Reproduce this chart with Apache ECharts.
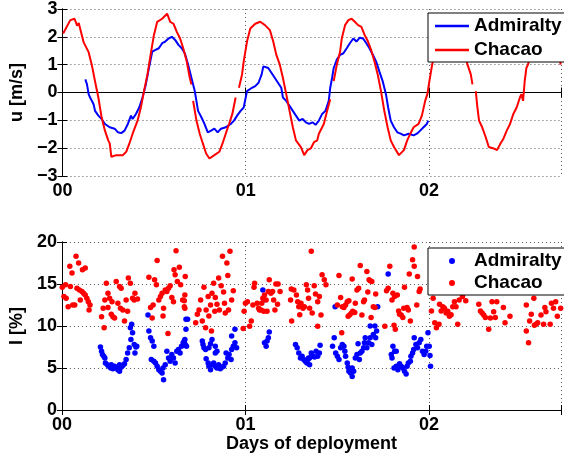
<!DOCTYPE html>
<html>
<head>
<meta charset="utf-8">
<script src="https://cdn.jsdelivr.net/npm/echarts@6/dist/echarts.min.js"></script>
<style>html,body{margin:0;padding:0;background:#fff}#c{width:564px;height:457px}</style>
</head>
<body>
<div id="c"></div>
<script>
// x tick labels
const dayTicks = ['00', '01', '02'];
// Top panel: u [m/s] time series (days, u); '-' marks a gap
const chacaoU = [
[0.004,2.12],[0.043,2.6],[0.066,2.65],[0.08,2.4],[0.089,2.5],[0.116,1.8],[0.143,1.45],[0.16,1.0],[0.178,0.4],[0.196,-0.18],
[0.214,-0.9],[0.232,-1.37],[0.25,-1.72],[0.258,-1.83],[0.267,-2.31],[0.294,-2.25],[0.33,-2.25],[0.348,-2.13],[0.365,-1.84],[0.383,-1.48],
[0.41,-1.01],[0.428,-0.54],[0.445,0.05],[0.464,0.65],[0.481,1.35],[0.499,2.06],[0.517,2.54],[0.544,2.65],[0.571,2.83],[0.579,2.9],
[0.588,2.54],[0.606,2.47],[0.624,2.18],[0.642,1.94],[0.659,1.59],[0.678,1.12],[0.695,0.52],[0.704,0.29],[0.709,'-'],
[0.713,-0.3],[0.731,-1.0],[0.749,-1.48],[0.766,-1.83],[0.784,-2.19],[0.802,-2.37],[0.829,-2.25],[0.856,-2.13],[0.873,-1.84],[0.891,-1.48],
[0.909,-1.13],[0.927,-0.77],[0.945,-0.18],[0.954,'-'],
[0.963,0.17],[0.98,0.65],[0.989,1.12],[1.007,1.83],[1.025,2.3],[1.052,2.47],[1.079,2.54],[1.105,2.42],[1.132,2.24],[1.15,1.83],
[1.167,1.35],[1.186,1.0],[1.203,0.52],[1.221,-0.06],[1.239,-0.66],[1.257,-1.25],[1.274,-1.72],[1.301,-1.96],[1.319,-2.25],[1.337,-2.07],
[1.355,-2.01],[1.373,-1.78],[1.39,-1.72],[1.399,-1.48],[1.426,-1.13],[1.444,-0.66],[1.461,-0.24],[1.47,'-'],
[1.48,0.41],[1.497,1.0],[1.515,1.47],[1.524,1.94],[1.542,2.42],[1.56,2.6],[1.578,2.65],[1.595,2.54],[1.613,2.42],[1.631,2.36],
[1.649,2.06],[1.667,1.83],[1.684,1.53],[1.702,1.12],[1.72,0.65],[1.738,0.05],[1.756,-0.66],[1.774,-1.25],[1.791,-1.72],[1.809,-1.96],
[1.836,-2.25],[1.863,-2.07],[1.881,-1.72],[1.898,-1.48],[1.916,-1.25],[1.943,-1.13],[1.961,-0.83],[1.979,-0.3],[1.991,-0.06],[2.002,0.41],
[2.014,0.88],[2.027,1.35],[2.05,1.9],[2.086,2.3],[2.123,2.55],[2.166,2.3],[2.187,1.6],[2.21,1.0],[2.228,0.65],[2.237,0.29],[2.246,'-'],
[2.255,0.05],[2.264,-0.54],[2.273,-1.01],[2.29,-1.25],[2.309,-1.6],[2.326,-1.96],[2.353,-2.01],[2.371,-2.07],[2.389,-1.84],[2.406,-1.66],
[2.424,-1.37],[2.442,-1.13],[2.46,-0.77],[2.478,-0.54],[2.496,-0.18],[2.504,-0.06],[2.513,-0.3],[2.522,0.41],[2.531,0.88],[2.54,1.0],
[2.583,2.2],[2.626,2.5],[2.668,2.2],[2.709,1.47],[2.718,1.0]
];
const admiraltyU = [
[0.125,0.47],[0.134,0.29],[0.143,-0.06],[0.151,-0.18],[0.17,-0.42],[0.178,-0.66],[0.196,-0.83],[0.214,-0.95],[0.232,-1.13],[0.258,-1.25],
[0.285,-1.3],[0.303,-1.43],[0.321,-1.46],[0.339,-1.37],[0.357,-1.13],[0.374,-0.83],[0.383,-0.95],[0.401,-0.77],[0.419,-0.54],[0.437,-0.18],
[0.455,0.29],[0.472,0.88],[0.49,1.47],[0.508,1.53],[0.526,1.59],[0.544,1.77],[0.561,1.83],[0.579,1.94],[0.597,2.0],[0.615,1.89],
[0.633,1.71],[0.651,1.59],[0.668,1.4],[0.686,1.0],[0.704,0.52],[0.722,0.05],[0.731,-0.3],[0.74,-0.66],[0.758,-0.89],[0.775,-1.13],
[0.793,-1.43],[0.811,-1.37],[0.829,-1.3],[0.847,-1.43],[0.865,-1.3],[0.891,-1.25],[0.918,-1.13],[0.936,-1.01],[0.953,-0.83],[0.972,-0.66],
[0.989,-0.54],[1.007,0.05],[1.016,0.11],[1.034,0.17],[1.052,0.23],[1.07,0.35],[1.087,0.65],[1.096,0.94],[1.105,1.0],[1.123,0.88],
[1.141,0.7],[1.159,0.52],[1.176,0.35],[1.194,0.17],[1.203,-0.18],[1.221,-0.3],[1.239,-0.48],[1.257,-0.66],[1.274,-0.83],[1.292,-1.01],
[1.31,-0.95],[1.328,-1.07],[1.346,-1.13],[1.364,-1.07],[1.381,-1.16],[1.399,-1.01],[1.417,-0.77],[1.435,-0.66],[1.453,-0.3],[1.461,0.17],
[1.471,0.52],[1.48,0.88],[1.497,1.18],[1.515,1.35],[1.533,1.41],[1.551,1.59],[1.568,1.77],[1.587,1.94],[1.604,1.83],[1.622,1.97],
[1.64,1.94],[1.658,1.77],[1.675,1.59],[1.694,1.35],[1.711,1.12],[1.729,0.76],[1.747,0.41],[1.765,-0.06],[1.777,-0.54],[1.791,-1.01],
[1.809,-1.25],[1.827,-1.43],[1.845,-1.48],[1.863,-1.54],[1.872,-1.6],[1.889,-1.48],[1.916,-1.54],[1.934,-1.48],[1.952,-1.37],[1.97,-1.25],
[1.988,-1.13],[1.996,-1.01]
];
// Bottom panel: I [%] samples (days, I)
const admiraltyI = [
[0.21,7.5],[0.216,7.0],[0.221,6.6],[0.228,6.4],[0.237,5.6],[0.248,5.4],[0.255,5.2],[0.266,5.0],[0.278,4.9],[0.287,5.2],
[0.296,5.0],[0.305,4.8],[0.314,4.6],[0.323,5.1],[0.332,5.3],[0.341,5.5],[0.35,6.0],[0.358,6.8],[0.367,7.4],[0.376,8.4],
[0.385,9.2],[0.38,10.2],[0.373,9.8],[0.394,7.8],[0.403,7.5],[0.398,6.8],[0.408,7.6],[0.234,6.2],[0.269,5.4],[0.314,5.4],
[0.469,11.3],[0.474,9.4],[0.483,8.6],[0.492,8.2],[0.501,7.6],[0.487,6.0],[0.501,5.8],[0.51,5.6],[0.519,5.2],[0.528,4.8],
[0.537,4.6],[0.546,4.4],[0.554,3.6],[0.551,5.0],[0.563,5.4],[0.572,7.0],[0.581,6.2],[0.59,5.8],[0.599,6.6],[0.608,6.2],
[0.617,5.6],[0.626,7.0],[0.635,7.2],[0.644,6.8],[0.652,7.6],[0.661,8.0],[0.67,8.4],[0.676,10.8],[0.685,10.8],[0.676,9.6],
[0.667,8.2],[0.672,7.8],[0.679,7.6],[0.765,8.2],[0.769,7.8],[0.774,7.4],[0.783,7.2],[0.786,6.1],[0.797,5.6],[0.801,5.2],
[0.81,4.8],[0.818,5.4],[0.827,5.6],[0.836,5.2],[0.845,5.0],[0.854,5.4],[0.863,4.9],[0.872,5.1],[0.881,5.2],[0.89,5.6],
[0.895,6.8],[0.904,6.2],[0.911,6.6],[0.922,6.0],[0.925,7.2],[0.934,7.6],[0.943,8.0],[0.952,7.4],[0.925,8.8],[0.943,9.6],
[0.818,8.4],[0.836,7.6],[0.836,6.8],[0.845,7.0],[0.801,7.4],[0.81,7.9],
[1.095,14.3],[1.1,13.1],[1.104,8.0],[1.113,7.6],[1.118,8.2],[1.125,8.6],[1.13,9.3],
[1.273,7.8],[1.282,7.4],[1.291,6.8],[1.3,6.2],[1.309,6.4],[1.318,6.0],[1.326,5.8],[1.335,5.6],[1.344,6.2],[1.35,5.4],
[1.341,6.0],[1.35,6.2],[1.359,6.8],[1.368,6.4],[1.377,6.3],[1.385,7.0],[1.394,6.4],[1.403,6.8],[1.407,7.7],
[1.475,7.6],[1.484,8.6],[1.492,6.8],[1.501,6.4],[1.51,6.0],[1.519,7.4],[1.528,7.8],[1.537,7.6],[1.546,6.4],[1.542,7.0],
[1.555,5.6],[1.56,5.1],[1.564,4.6],[1.573,4.4],[1.582,4.0],[1.59,4.6],[1.582,5.0],[1.599,6.2],[1.608,6.6],[1.614,7.9],
[1.621,6.0],[1.626,6.8],[1.635,7.0],[1.644,7.4],[1.649,8.0],[1.653,8.6],[1.662,7.4],[1.671,8.0],[1.68,8.6],[1.689,7.8],
[1.697,9.0],[1.706,10.0],[1.68,10.0],[1.71,8.6],[1.715,9.4],[1.489,12.3],[1.721,12.3],[1.778,16.2],
[1.804,7.6],[1.813,7.0],[1.822,7.0],[1.795,6.6],[1.799,6.2],[1.81,5.0],[1.822,5.2],[1.831,4.8],[1.84,5.5],[1.849,5.2],
[1.858,5.0],[1.867,4.6],[1.876,4.3],[1.881,5.2],[1.888,5.6],[1.899,5.8],[1.902,6.4],[1.911,6.8],[1.917,7.2],[1.92,8.6],
[1.929,7.8],[1.938,7.4],[1.947,8.0],[1.956,8.4],[1.965,7.0],[1.974,6.6],[1.983,7.0],[1.988,7.6],[1.995,9.2],[2.002,7.6],
[2.006,6.5],[2.009,5.2]
];
const chacaoI = [
[0.002,14.6],[0.02,14.9],[0.011,13.5],[0.023,13.3],[0.034,12.3],[0.046,14.7],[0.059,12.5],[0.07,12.5],[0.043,17.1],[0.055,16.3],
[0.077,18.3],[0.091,17.5],[0.112,16.7],[0.127,16.9],[0.082,14.5],[0.095,14.3],[0.109,14.1],[0.118,13.9],[0.127,13.7],[0.136,13.3],
[0.144,12.9],[0.153,12.5],[0.148,11.9],[0.1,13.1],
[0.242,15.1],[0.251,13.9],[0.234,13.1],[0.225,12.1],[0.216,11.1],[0.23,9.8],[0.251,12.2],[0.26,13.3],[0.273,12.9],[0.269,11.4],
[0.278,11.1],[0.287,10.95],[0.296,15.3],[0.314,14.7],[0.323,14.5],[0.305,12.7],[0.319,12.1],[0.332,11.9],[0.341,10.6],[0.35,13.1],
[0.358,11.75],[0.362,15.7],[0.373,15.1],[0.385,13.3],[0.398,13.9],[0.394,13.1],[0.412,13.2],
[0.474,15.8],[0.483,12.2],[0.497,12.5],[0.492,10.95],[0.505,15.5],[0.515,14.9],[0.519,17.8],[0.528,13.1],[0.537,13.5],[0.546,13.9],
[0.554,12.1],[0.551,11.2],[0.563,14.3],[0.572,14.1],[0.581,14.5],[0.59,14.8],[0.599,13.4],[0.608,12.9],[0.611,16.7],[0.617,16.1],
[0.622,18.97],[0.629,15.3],[0.64,17.0],[0.647,14.9],[0.658,13.1],[0.67,13.7],[0.67,12.1],[0.578,9.1],
[0.667,13.0],[0.667,12.3],[0.672,15.9],[0.729,10.4],[0.738,11.4],[0.747,11.9],[0.756,13.1],[0.765,10.6],[0.774,14.6],[0.783,9.8],
[0.786,11.9],[0.797,13.5],[0.801,11.2],[0.81,12.5],[0.818,13.9],[0.827,15.1],[0.833,11.75],[0.836,13.4],[0.845,12.6],[0.854,15.7],
[0.858,11.9],[0.868,14.8],[0.881,14.05],[0.886,12.7],[0.89,11.55],[0.899,17.5],[0.904,16.0],[0.908,11.9],[0.916,18.9],[0.925,13.1],
[0.934,14.2],[0.875,18.3],[0.815,9.4],
[0.988,9.7],[0.993,11.75],[1.0,12.7],[1.011,12.9],[1.023,9.96],[1.032,10.6],[1.041,12.5],[1.047,14.6],[1.05,15.1],[1.064,12.7],
[1.072,12.1],[1.077,11.9],[1.086,11.9],[1.089,12.7],[1.095,13.3],[1.1,11.75],[1.104,13.7],[1.113,13.1],[1.118,11.75],[1.125,14.1],
[1.13,15.5],[1.139,13.9],[1.148,14.1],[1.154,13.1],[1.161,11.9],[1.166,15.0],[1.175,12.6],[1.178,15.0],[1.189,14.1],
[1.25,14.4],[1.246,13.1],[1.252,10.6],[1.264,14.3],[1.278,13.7],[1.285,12.9],[1.291,12.3],[1.296,11.35],[1.303,12.7],[1.314,12.1],
[1.321,12.3],[1.332,14.9],[1.339,14.3],[1.344,13.3],[1.35,12.1],[1.359,18.9],
[1.364,11.55],[1.375,14.8],[1.382,13.8],[1.394,12.9],[1.403,13.5],[1.412,11.3],[1.418,16.1],[1.43,15.5],[1.439,14.9],[1.394,9.96],
[1.51,16.0],[1.501,12.5],[1.519,13.4],[1.528,12.3],[1.537,12.2],[1.546,12.5],[1.555,12.9],[1.564,13.0],[1.56,11.15],[1.569,11.35],
[1.578,11.55],[1.585,11.75],[1.596,11.6],[1.599,12.7],[1.582,15.6],[1.608,14.3],[1.617,14.5],[1.626,17.2],[1.635,11.3],[1.644,12.9],
[1.649,13.1],[1.662,16.5],[1.667,14.05],[1.674,15.5],[1.68,15.4],[1.685,11.0],[1.689,15.3],[1.697,12.3],[1.706,12.2],[1.71,13.8],
[1.525,9.2],[1.76,9.96],[1.769,14.2],[1.778,14.5],[1.787,17.1],[1.799,13.1],[1.804,13.9],[1.813,13.5],[1.81,10.1],[1.817,9.6],
[1.828,13.7],[1.835,11.8],[1.84,11.4],[1.849,11.3],[1.858,11.0],[1.863,12.1],[1.867,14.6],[1.881,12.2],[1.888,11.9],[1.893,16.2],
[1.899,10.6],[1.911,17.9],[1.92,19.4],[1.92,17.1],[1.938,15.9],[1.947,14.1],[1.952,14.4],[1.934,12.5],
[2.014,11.8],[2.023,13.3],[2.032,10.4],[2.041,9.8],[2.055,10.2],[2.058,12.6],[2.067,11.8],[2.076,12.3],[2.085,12.1],[2.094,11.55],
[2.103,11.75],[2.112,11.15],[2.121,11.35],[2.13,12.3],[2.139,12.9],[2.148,12.3],[2.157,10.2],[2.165,13.1],[2.183,13.5],[2.201,13.0],
[2.272,12.6],[2.281,11.8],[2.29,11.55],[2.299,11.3],[2.308,11.0],[2.326,9.6],[2.335,10.95],[2.344,12.9],[2.353,11.7],[2.362,11.0],
[2.37,12.9],[2.406,12.2],[2.415,10.4],[2.442,11.15],[2.531,12.5],[2.531,9.4],[2.543,8.0],[2.549,10.6],[2.558,11.4],[2.572,13.3],
[2.575,10.1],[2.584,10.2],[2.593,10.4],[2.611,11.3],[2.625,10.2],[2.632,12.2],[2.638,11.7],[2.661,10.2],[2.668,12.7],[2.679,12.1],
[2.691,12.9],[2.7,11.15],[2.718,12.1],[2.70,16.0]
];

const FONT = 'Liberation Sans, Arial, sans-serif';
const txt = {fontFamily: FONT, fontWeight: 'bold', fontSize: 18, color: '#000'};
const gridLine = {show: true, lineStyle: {color: '#555', type: [1, 3], width: 1}};
const axLine = {show: true, lineStyle: {color: '#000', width: 1}};
const tickIn = {show: true, inside: true, length: 5, lineStyle: {color: '#000'}};
const minus = v => String(v).replace('-', '\u2212');

function xAx(grid, pos, withLabels, name) {
  return {type: 'value', gridIndex: grid, position: pos, min: 0, max: 2.72, interval: 1,
    axisLine: axLine, axisTick: tickIn,
    axisLabel: withLabels ? Object.assign({margin: 6, formatter: v => dayTicks[Math.round(v)] || ''}, txt) : {show: false},
    splitLine: withLabels ? gridLine : {show: false},
    name: name || '', nameLocation: 'middle', nameGap: 24, nameTextStyle: txt};
}
function yAx(grid, pos, withLabels, min, max, interval, name) {
  return {type: 'value', gridIndex: grid, position: pos, min: min, max: max, interval: interval,
    axisLine: axLine, axisTick: tickIn,
    axisLabel: withLabels ? Object.assign({margin: 5, formatter: minus}, txt) : {show: false},
    splitLine: withLabels ? gridLine : {show: false},
    name: name || '', nameLocation: 'middle', nameGap: 30, nameRotate: 90, nameTextStyle: txt};
}

// Legend icon for the scatter legend: a dot centred in a 34x6 box (the flat line spans the box, has no area)
const dotIcon = 'path://M0,3L34,3M14,3A3,3,0,1,1,20,3A3,3,0,1,1,14,3Z';

function legendOf(top, names, icon, itemHeight, gap, pad) {
  return {
    orient: 'vertical', left: 428, top: top, backgroundColor: '#fff', borderColor: '#000', borderWidth: 1,
    itemWidth: 34, itemHeight: itemHeight, itemGap: gap, padding: pad, selectedMode: false,
    textStyle: {fontFamily: FONT, fontWeight: 'bold', fontSize: 19, color: '#000', lineHeight: 20,
      rich: {t: {fontFamily: FONT, fontWeight: 'bold', fontSize: 19, color: '#000', lineHeight: 20, width: 83}}},
    formatter: n => '{t|' + n.replace('_I', '') + '}',
    data: names.map(n => ({name: n, icon: icon}))
  };
}

const chart = echarts.init(document.getElementById('c'), null, {renderer: 'canvas'});
chart.setOption({
  animation: false,
  backgroundColor: '#fff',
  grid: [
    {left: 55, top: 7, width: 508, height: 169},
    {left: 55, top: 242, width: 508, height: 168}
  ],
  xAxis: [xAx(0, 'bottom', true), xAx(0, 'top', false), xAx(1, 'bottom', true, 'Days of deployment'), xAx(1, 'top', false)],
  yAxis: [yAx(0, 'left', true, -3, 3, 1, 'u [m/s]'), yAx(0, 'right', false, -3, 3, 1),
          yAx(1, 'left', true, 0, 20, 5, 'I [%]'), yAx(1, 'right', false, 0, 20, 5)],
  legend: [
    legendOf(13, ['Admiralty', 'Chacao'], 'rect', 2.5, 4, [3, 3, 2, 7]),
    legendOf(248, ['Admiralty_I', 'Chacao_I'], dotIcon, 6, 2, [3, 3, 2, 7])
  ],
  series: [
    {name: 'Admiralty', type: 'line', xAxisIndex: 0, yAxisIndex: 0, data: admiraltyU, symbol: 'none',
     lineStyle: {color: '#0000ff', width: 2}, itemStyle: {color: '#0000ff'}},
    {name: 'Chacao', type: 'line', xAxisIndex: 0, yAxisIndex: 0, data: chacaoU, symbol: 'none', connectNulls: false,
     lineStyle: {color: '#ff0000', width: 2}, itemStyle: {color: '#ff0000'}},
    {name: 'Admiralty_I', type: 'scatter', xAxisIndex: 2, yAxisIndex: 2, data: admiraltyI, symbol: 'circle', symbolSize: 5.5,
     itemStyle: {color: '#0000ff', opacity: 1, borderWidth: 0}},
    {name: 'Chacao_I', type: 'scatter', xAxisIndex: 2, yAxisIndex: 2, data: chacaoI, symbol: 'circle', symbolSize: 5.5,
     itemStyle: {color: '#ff0000', opacity: 1, borderWidth: 0}}
  ]
});
</script>
</body>
</html>
